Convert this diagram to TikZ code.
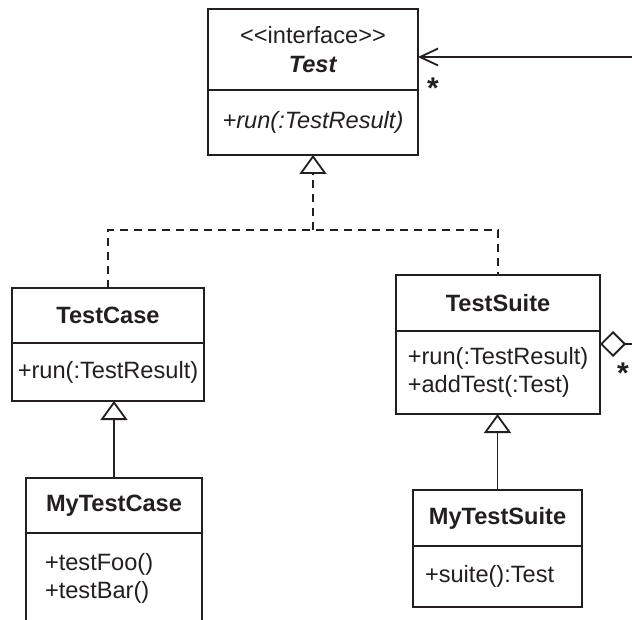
\documentclass[tikz,border=0pt]{standalone}
\usepackage{fontspec}
\setmainfont{Liberation Sans}
\usetikzlibrary{arrows.meta,positioning,calc}
\definecolor{cink}{HTML}{231F20}
\newcommand{\umlfont}{\fontsize{11.8}{14}\selectfont}
\tikzset{
  box/.style={draw=cink,line width=0.9pt,outer sep=0pt,inner sep=0pt,align=center},
  chead/.style={box,font=\umlfont\bfseries},
  cbody/.style={box,align=left},
  dashline/.style={draw=cink,line width=0.9pt,dash pattern=on 4pt off 3pt},
  realize/.style={dashline,-{Triangle[open,length=9.5pt,width=13.5pt]}},
  genline/.style={draw=cink,line width=0.9pt,-{Triangle[open,length=9.5pt,width=13.5pt]}},
  aggline/.style={draw=cink,line width=0.9pt,{Diamond[open,length=13pt,width=13pt]}-{Straight Barb[length=9pt,width=8.5pt]}},
  mult/.style={font=\fontsize{15}{15}\selectfont\bfseries,inner sep=0pt}
}

\begin{document}
\begin{tikzpicture}[x=0.5pt,y=-0.5pt,font=\umlfont,text=cink]
\useasboundingbox (0,0) rectangle (632,620);
\clip (0,0) rectangle (632,620);
% classes
\node[chead,minimum width=105pt,minimum height=40.5pt,anchor=north west] (th) at (208,9)
  {{\mdseries <\kern0pt<interface>\kern0pt>}\\[0.5pt]\textit{Test}};
\node[cbody,minimum width=105pt,minimum height=32.5pt,below=0pt of th] (tb) {\textit{+run(:TestResult)}};
\node[chead,minimum width=96pt,minimum height=27.5pt,anchor=north west] (tch) at (12,288) {TestCase};
\node[cbody,minimum width=96pt,minimum height=29pt,below=0pt of tch] (tcb) {+run(:TestResult)};
\node[chead,minimum width=88pt,minimum height=27.5pt,anchor=north west] (mtch) at (26,478) {MyTestCase};
\node[cbody,minimum width=88pt,minimum height=45pt,text width=69pt,inner xsep=9.5pt,below=0pt of mtch] (mtcb)
  {+testFoo()\\+testBar()};
\node[chead,minimum width=102pt,minimum height=28pt,anchor=north west] (tsh) at (396,275) {TestSuite};
\node[cbody,minimum width=102pt,minimum height=41.5pt,below=0pt of tsh] (tsb)
  {+run(:TestResult)\\+addTest(:Test)};
\node[chead,minimum width=84.5pt,minimum height=28pt,anchor=north west] (mtsh) at (413,490) {MyTestSuite};
\node[cbody,minimum width=84.5pt,minimum height=30.5pt,text width=72.5pt,inner xsep=6pt,below=0pt of mtsh] (mtsb)
  {+suite():Test};
% relations
\coordinate (split) at ($(tb.south)+(0,75)$);
\draw[dashline] (tch.north) |- (split) -| (tsh.north);
\draw[realize] (split) -- (tb.south);
\draw[genline] (mtch.north) -- (mtch.north |- tcb.south);
\draw[genline] (mtsh.north) -- (mtsh.north |- tsb.south);
\coordinate (aggout) at ($(tsb.north east)+(0,13)$);
\coordinate (aggin) at ($(th.north east)+(0,48)$);
\draw[aggline] (aggout) -- ++(40,0) |- (aggin);
\node[mult] (m1) at ($(aggin)+(15,31)$) {*};
\node[mult] (m2) at ($(aggout)+(23,29)$) {*};
\end{tikzpicture}
\end{document}
